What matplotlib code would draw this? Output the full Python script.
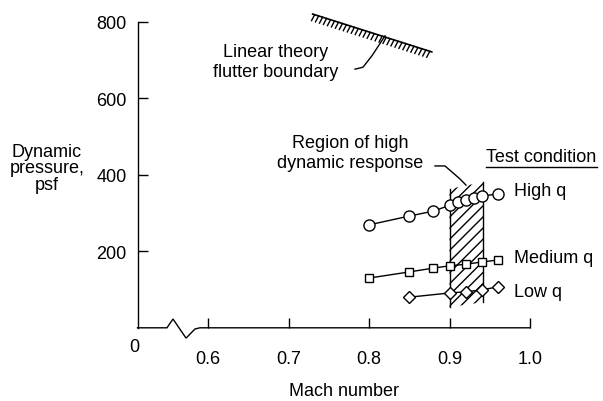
import numpy as np
import matplotlib
matplotlib.use("Agg")
import matplotlib.pyplot as plt
from matplotlib import patheffects

plt.rcParams['font.family'] = ['Liberation Sans', 'DejaVu Sans']
plt.rcParams['hatch.linewidth'] = 1.0

# donnees
high_mach = [0.80, 0.85, 0.88, 0.90, 0.91, 0.92, 0.93, 0.94, 0.96]
high_q = [269, 292, 305, 320, 329, 334, 339, 344, 350]
med_mach = [0.80, 0.85, 0.88, 0.90, 0.92, 0.94, 0.96]
med_q = [130, 146, 156, 162, 166, 172, 177]
low_mach = [0.85, 0.90, 0.92, 0.94, 0.96]
low_q = [80, 91, 94, 99, 107]

# frontiere de flottement (theorie lineaire)
flutter_mach = [0.730, 0.878]
flutter_q = [820, 721]

# zone de forte reponse dynamique
region_mach = [0.900, 0.942]
region_q_bot = [54, 67]
region_q_top = [363, 381]

x_ticks = [0.6, 0.7, 0.8, 0.9, 1.0]
x_labels = ['0.6', '0.7', '0.8', '0.9', '1.0']
y_ticks = [200, 400, 600, 800]

fs = 13
fig = plt.figure(figsize=(6.03, 4.02), dpi=100)
ax = fig.add_axes([137.5 / 603, (402 - 328.8) / 402, (530 - 137.5) / 603, (328.8 - 22.7) / 402])
ax.set_xlim(0.5124, 1.0)
ax.set_ylim(0, 800)


def px(p):
    # pixel horizontal -> nombre de Mach
    return 0.6 + (p - 208) / 805


for s in ['top', 'right', 'bottom']:
    ax.spines[s].set_visible(False)
ax.spines['left'].set_linewidth(1.0)

ax.set_xticks(x_ticks)
ax.set_xticklabels(x_labels)
ax.set_yticks(y_ticks)
ax.tick_params(axis='x', direction='in', length=7, width=1.0, pad=16, labelsize=fs)
ax.tick_params(axis='y', direction='in', length=7, width=1.0, pad=8, labelsize=fs)

# axe des x avec coupure
xb = [0.5124, 0.549, 0.5565, 0.5727, 0.5839, 0.590, 1.0]
yb = [0, 0, 23, -27, -3, 0, 0]
ax.plot(xb, yb, color='black', lw=1.0, clip_on=False, solid_joinstyle='miter')
ax.text(px(134), -50, '0', ha='center', va='center', fontsize=fs)

# zone hachuree
poly_x = [region_mach[0], region_mach[1], region_mach[1], region_mach[0]]
poly_y = [region_q_bot[0], region_q_bot[1], region_q_top[1], region_q_top[0]]
ax.fill(poly_x, poly_y, facecolor='none', edgecolor='black', hatch='///', lw=0, zorder=2)
for i in range(2):
    ax.plot([region_mach[i], region_mach[i]], [region_q_bot[i], region_q_top[i]],
            color='black', lw=1.0, zorder=2)

# series
ax.plot(high_mach, high_q, '-o', color='black', lw=1.0, ms=8, mfc='white', mec='black', mew=1.0, zorder=3, clip_on=False)
ax.plot(med_mach, med_q, '-s', color='black', lw=1.0, ms=6, mfc='white', mec='black', mew=1.0, zorder=3, clip_on=False)
ax.plot(low_mach, low_q, '-D', color='black', lw=1.0, ms=6.5, mfc='white', mec='black', mew=1.0, zorder=3, clip_on=False)

# frontiere de flottement
ax.plot(flutter_mach, flutter_q, color='black', lw=1.2, clip_on=False,
        path_effects=[patheffects.withTickedStroke(angle=-100, spacing=3.0, length=1.6, linewidth=1.0)])

# annotations
ax.text(0.6845, 721, 'Linear theory', ha='center', va='center', fontsize=fs)
ax.text(0.6845, 671, 'flutter boundary', ha='center', va='center', fontsize=fs)
ax.plot([0.7826, 0.7925, 0.8037, 0.8199], [676, 681, 711, 763], color='black', lw=1.0, clip_on=False)

ax.text(0.7764, 485, 'Region of high', ha='center', va='center', fontsize=fs)
ax.text(0.7764, 432, 'dynamic response', ha='center', va='center', fontsize=fs)
ax.plot([0.882, 0.8944, 0.913, 0.9205], [423, 423, 389, 373], color='black', lw=1.0, clip_on=False)

ax.text(px(541.5), 449, 'Test condition', ha='center', va='center', fontsize=fs)
ax.plot([px(486), px(597)], [420, 420], color='black', lw=1.0, clip_on=False)
ax.text(px(514), 360, 'High q', ha='left', va='center', fontsize=fs)
ax.text(px(514), 185, 'Medium q', ha='left', va='center', fontsize=fs)
ax.text(px(514), 96, 'Low q', ha='left', va='center', fontsize=fs)

ax.text(px(47), 418, 'Dynamic\npressure,\npsf', ha='center', va='center',
        fontsize=fs, linespacing=0.95)

ax.text(px(344), -163, 'Mach number', ha='center', va='center', fontsize=fs)

fig.savefig('out.png', dpi=100)
